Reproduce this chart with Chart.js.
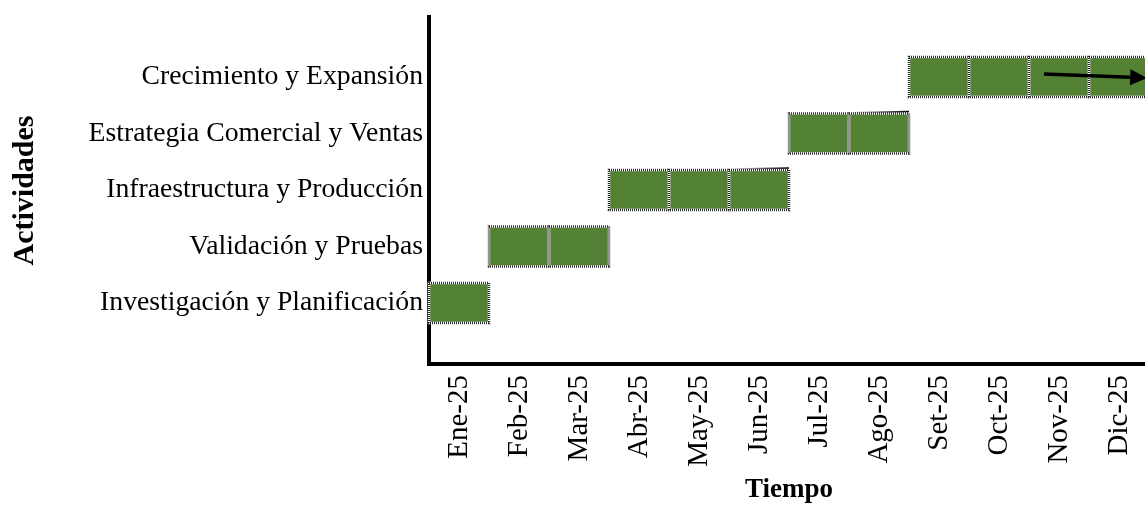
<!DOCTYPE html>
<html>
<head>
<meta charset="utf-8">
<script src="https://cdn.jsdelivr.net/npm/chart.js@4.4.1/dist/chart.umd.min.js"></script>
<style>
    html, body { margin: 0; padding: 0; background: #fff; overflow: hidden; }
    #wrap { width: 1150px; height: 507px; position: relative; }
</style>
</head>
<body>
<div id="wrap"><canvas id="gantt"></canvas></div>
<script>
// Gantt de actividades 2025 — one bar cell per month
const activities = [
    'Investigación y Planificación',
    'Validación y Pruebas',
    'Infraestructura y Producción',
    'Estrategia Comercial y Ventas',
    'Crecimiento y Expansión'
];
const months = ['Ene-25', 'Feb-25', 'Mar-25', 'Abr-25', 'May-25', 'Jun-25',
    'Jul-25', 'Ago-25', 'Set-25', 'Oct-25', 'Nov-25', 'Dic-25'];
const startMonth = [0, 1, 3, 6, 8];      // index into months
const durationMonths = [1, 2, 3, 2, 4];

// "continues" arrow on the last activity (month units)
const arrowFrom = 10.25;
const arrowTo = 11.97;
const arrowRow = 4;
// rows whose last cell keeps a faint connector edge (as in the source)
const shadedRows = [2, 3];

const green = '#548235';
const serif = "'Liberation Serif', 'Times New Roman', serif";

// build one cell per month so each month gets its own dotted frame
const cells = [];
activities.forEach((name, i) => {
    for (let k = 0; k < durationMonths[i]; k++) {
        const m = startMonth[i] + k;
        cells.push({ x: [m, m + 1], y: i });
    }
});

const dottedFrame = {
    id: 'dottedFrame',
    afterDatasetsDraw(chart) {
        const ctx = chart.ctx;
        const meta = chart.getDatasetMeta(0);
        ctx.save();
        meta.data.forEach(bar => {
            const { x, base, y, height } = bar.getProps(['x', 'base', 'y', 'height'], true);
            const left = Math.min(x, base), w = Math.abs(x - base);
            ctx.lineWidth = 2.5;
            ctx.setLineDash([]);
            ctx.strokeStyle = '#ffffff';
            ctx.strokeRect(left, y - height / 2, w, height);
            ctx.setLineDash([1, 1]);
            ctx.strokeStyle = '#2b2b2b';
            ctx.strokeRect(left, y - height / 2, w, height);
        });

        // faint connector edges on the last month of some rows
        const { x: xs, y: ys } = chart.scales;
        ctx.setLineDash([]);
        ctx.lineWidth = 1.5;
        shadedRows.forEach(r => {
            const end = startMonth[r] + durationMonths[r];
            const x0 = xs.getPixelForValue(end - 1), x1 = xs.getPixelForValue(end);
            const yc = ys.getPixelForValue(r);
            const h = meta.data[0].height / 2;
            const g = ctx.createLinearGradient(x0, 0, x1, 0);
            g.addColorStop(0, 'rgba(0,0,0,0)');
            g.addColorStop(1, 'rgba(0,0,0,1)');
            ctx.strokeStyle = g;
            ctx.beginPath();
            ctx.moveTo(x0, yc - h - 1);
            ctx.lineTo(x1, yc - h - 2);
            ctx.stroke();
        });
        ctx.restore();
    }
};

const arrowMark = {
    id: 'arrowMark',
    afterDatasetsDraw(chart) {
        const { ctx, scales: { x, y } } = chart;
        const x0 = x.getPixelForValue(arrowFrom), x1 = x.getPixelForValue(arrowTo);
        const yc = y.getPixelForValue(arrowRow);
        const y0 = yc - 3, y1 = yc + 1;
        const ang = Math.atan2(y1 - y0, x1 - x0);
        const head = 17;
        ctx.save();
        ctx.strokeStyle = '#000';
        ctx.fillStyle = '#000';
        ctx.lineWidth = 3.5;
        ctx.beginPath();
        ctx.moveTo(x0, y0);
        ctx.lineTo(x1 - head * Math.cos(ang), y1 - head * Math.sin(ang));
        ctx.stroke();
        ctx.beginPath();
        ctx.moveTo(x1, y1);
        ctx.lineTo(x1 - head * Math.cos(ang) - 8 * Math.sin(ang), y1 - head * Math.sin(ang) + 8 * Math.cos(ang));
        ctx.lineTo(x1 - head * Math.cos(ang) + 8 * Math.sin(ang), y1 - head * Math.sin(ang) - 8 * Math.cos(ang));
        ctx.closePath();
        ctx.fill();
        ctx.restore();
    }
};

new Chart(document.getElementById('gantt'), {
    type: 'bar',
    data: {
        datasets: [{
            data: cells,
            backgroundColor: green,
            borderWidth: 0,
            barPercentage: 0.885,
            categoryPercentage: 0.8
        }]
    },
    options: {
        indexAxis: 'y',
        responsive: true,
        maintainAspectRatio: false,
        animation: false,
        layout: { padding: { top: 17, right: 1, bottom: 0, left: 0 } },
        plugins: { legend: { display: false }, tooltip: { enabled: false } },
        scales: {
            x: {
                type: 'linear',
                offset: false,
                min: 0,
                max: months.length,
                afterBuildTicks: s => { s.ticks = months.map((m, i) => ({ value: i + 0.5 })); },
                afterFit: s => { s.height = 143; s.paddingLeft = 0; s.paddingRight = 0; },
                grid: { display: false, drawTicks: false },
                border: { display: true, color: '#000', width: 4 },
                ticks: {
                    autoSkip: false,
                    minRotation: 90,
                    maxRotation: 90,
                    padding: 11,
                    color: '#000',
                    font: { family: serif, size: 29 },
                    callback: (v, i) => months[i]
                },
                title: {
                    display: true,
                    text: 'Tiempo',
                    color: '#000',
                    font: { family: serif, size: 27, weight: 'bold' },
                    padding: { top: 0, bottom: 1 }
                }
            },
            y: {
                type: 'linear',
                offset: false,
                min: -1.08,
                max: 5.06,
                afterBuildTicks: s => { s.ticks = activities.map((a, i) => ({ value: i })); },
                afterFit: s => { s.width = 429; s.paddingTop = 0; s.paddingBottom = 0; },
                grid: { display: false, drawTicks: false, offset: false },
                border: { display: true, color: '#000', width: 4 },
                ticks: {
                    autoSkip: false,
                    padding: 6,
                    color: '#000',
                    font: { family: serif, size: 27.7 },
                    callback: (v, i) => activities[i]
                },
                title: {
                    display: true,
                    text: 'Actividades',
                    color: '#000',
                    font: { family: serif, size: 30, weight: 'bold' },
                    padding: { top: 7, bottom: 0 }
                }
            }
        }
    },
    plugins: [dottedFrame, arrowMark]
});
</script>
</body>
</html>
